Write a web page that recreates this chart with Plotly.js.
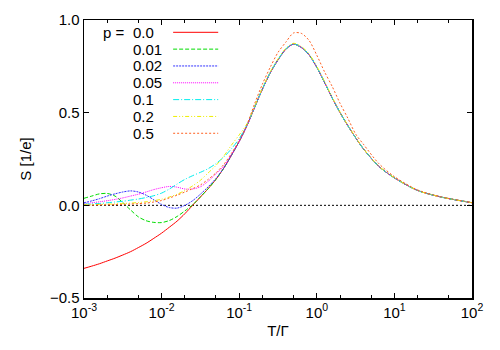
<!DOCTYPE html>
<html>
<head>
<meta charset="utf-8">
<script src="https://cdn.plot.ly/plotly-3.0.1.min.js"></script>
<style>html,body{margin:0;padding:0;background:#fff;}#chart{width:500px;height:350px;}</style>
</head>
<body>
<div id="chart"></div>
<script>
// Temperature grid T/Γ (log spaced points)
var T = [0.001, 0.001259, 0.001585, 0.001995, 0.002512, 0.003162, 0.003981, 0.005012, 0.00631, 0.007943,
         0.01, 0.01259, 0.01585, 0.01995, 0.02512, 0.03162, 0.03981, 0.05012, 0.0631, 0.07943,
         0.1, 0.1259, 0.1585, 0.1995, 0.2512, 0.3162, 0.3981, 0.5012, 0.631, 0.7943,
         1, 1.259, 1.585, 1.995, 2.512, 3.162, 3.981, 6.31, 10, 19.95, 39.81, 100];

var labels = ["0.0", "0.01", "0.02", "0.05", "0.1", "0.2", "0.5"];

var xTickVals = [0.001, 0.01, 0.1, 1, 10, 100];
var xTickText = ["10<sup>-3</sup>", "10<sup>-2</sup>", "10<sup>-1</sup>", "10<sup>0</sup>", "10<sup>1</sup>", "10<sup>2</sup>"];
var yTickVals = [-0.5, 0.0, 0.5, 1.0];

var S_p000 = [-0.34, -0.328, -0.315, -0.30, -0.285, -0.268, -0.25, -0.228, -0.205, -0.178,
              -0.15, -0.118, -0.085, -0.045, 0.0, 0.045, 0.09, 0.14, 0.20, 0.27,
              0.345, 0.43, 0.53, 0.628, 0.715, 0.785, 0.842, 0.87, 0.852, 0.812,
              0.745, 0.663, 0.578, 0.50, 0.43, 0.365, 0.305, 0.21, 0.148, 0.08, 0.045, 0.014];
var S_p001 = [0.038, 0.05, 0.062, 0.064, 0.05, 0.015, -0.025, -0.062, -0.083, -0.092,
              -0.093, -0.082, -0.06, -0.03, 0.003, 0.045, 0.09, 0.14, 0.20, 0.27,
              0.345, 0.43, 0.53, 0.628, 0.715, 0.785, 0.842, 0.87, 0.852, 0.812,
              0.745, 0.663, 0.578, 0.50, 0.43, 0.365, 0.305, 0.21, 0.148, 0.08, 0.045, 0.014];
var S_p002 = [0.014, 0.024, 0.036, 0.05, 0.062, 0.072, 0.078, 0.072, 0.055, 0.03,
              0.005, -0.012, -0.015, 0.0, 0.025, 0.06, 0.10, 0.145, 0.20, 0.27,
              0.345, 0.43, 0.53, 0.628, 0.715, 0.785, 0.842, 0.87, 0.852, 0.812,
              0.745, 0.663, 0.578, 0.50, 0.43, 0.365, 0.305, 0.21, 0.148, 0.08, 0.045, 0.014];
var S_p005 = [0.01, 0.014, 0.019, 0.025, 0.032, 0.04, 0.05, 0.06, 0.072, 0.085,
              0.095, 0.102, 0.098, 0.088, 0.088, 0.10, 0.13, 0.17, 0.21, 0.275,
              0.345, 0.43, 0.53, 0.628, 0.715, 0.785, 0.842, 0.87, 0.852, 0.812,
              0.745, 0.663, 0.578, 0.50, 0.43, 0.365, 0.305, 0.21, 0.148, 0.08, 0.045, 0.014];
var S_p010 = [0.006, 0.008, 0.01, 0.014, 0.018, 0.022, 0.028, 0.034, 0.042, 0.052,
              0.066, 0.088, 0.115, 0.14, 0.16, 0.178, 0.198, 0.225, 0.26, 0.305,
              0.36, 0.435, 0.532, 0.63, 0.717, 0.787, 0.844, 0.871, 0.853, 0.813,
              0.746, 0.664, 0.579, 0.50, 0.43, 0.365, 0.305, 0.21, 0.148, 0.08, 0.045, 0.014];
var S_p020 = [0.003, 0.004, 0.005, 0.006, 0.008, 0.01, 0.012, 0.015, 0.019, 0.025,
              0.033, 0.045, 0.06, 0.08, 0.105, 0.135, 0.175, 0.215, 0.265, 0.325,
              0.38, 0.44, 0.535, 0.633, 0.72, 0.79, 0.847, 0.874, 0.857, 0.817,
              0.75, 0.668, 0.582, 0.503, 0.432, 0.367, 0.306, 0.211, 0.149, 0.08, 0.045, 0.014];
var S_p050 = [0.001, 0.001, 0.002, 0.003, 0.004, 0.005, 0.007, 0.009, 0.012, 0.018,
              0.026, 0.04, 0.055, 0.072, 0.09, 0.11, 0.14, 0.175, 0.22, 0.28,
              0.35, 0.435, 0.55, 0.655, 0.745, 0.825, 0.88, 0.93, 0.928, 0.89,
              0.81, 0.72, 0.64, 0.55, 0.47, 0.385, 0.33, 0.225, 0.155, 0.083, 0.046, 0.015];

var series = [S_p000, S_p001, S_p002, S_p005, S_p010, S_p020, S_p050];
var colors = ["#ff0000", "#00dd00", "#3333ff", "#ff00ff", "#00eeee", "#eeee00", "#ff6020"];
var dashes = ["solid", "4px,2px", "2px,1px", "1px,1px", "6px,2px,1px,2px", "4px,2px,1px,2px,1px,2px", "2px,2px"];

var font = "Liberation Sans, Arial, Helvetica, sans-serif";
var fs = 15;
var traces = series.map(function (s, i) {
  return {x: T, y: s, type: "scatter", mode: "lines", name: labels[i],
          line: {color: colors[i], width: 1, dash: dashes[i], shape: "spline", smoothing: 0.8},
          showlegend: false, hoverinfo: "skip"};
});

// Custom gnuplot-style key: text on the left, line sample on the right
var annotations = [];
var shapes = [];
var W = 387.4, H = 278;
for (var i = 0; i < labels.length; i++) {
  var yp = (298 - (32.3 + 16.83 * i)) / H;
  annotations.push({xref: "paper", yref: "paper", x: (131 - 84.3) / W, y: yp, xanchor: "left", yanchor: "middle",
                    text: labels[i], showarrow: false, font: {family: font, size: fs, color: "#000"}});
  shapes.push({type: "line", xref: "paper", yref: "paper", x0: (173.3 - 84.3) / W, x1: (218.3 - 84.3) / W,
               y0: yp, y1: yp, line: {color: colors[i], width: 1, dash: dashes[i]}});
}
annotations.push({xref: "paper", yref: "paper", x: (127 - 84.3) / W, y: (298 - 32.3) / H, xanchor: "right", yanchor: "middle",
                  text: "p =", showarrow: false, font: {family: font, size: fs, color: "#000"}});
// zero reference line
shapes.push({type: "line", xref: "paper", yref: "y", x0: 0, x1: 1, y0: 0, y1: 0,
             line: {color: "#000", width: 1, dash: "2px,2px"}, layer: "below"});

var layout = {
  width: 500, height: 350,
  margin: {l: 84, r: 28, t: 20, b: 52},
  paper_bgcolor: "#fff", plot_bgcolor: "#fff",
  font: {family: font, size: fs, color: "#000"},
  showlegend: false,
  xaxis: {type: "log", range: [-3, 2], tickmode: "array", tickvals: xTickVals, ticktext: xTickText,
          showgrid: false, zeroline: false,
          showline: true, linecolor: "#000", linewidth: 1.5, mirror: "allticks",
          ticks: "inside", ticklen: 5, tickcolor: "#000", tickwidth: 1,
          minor: {ticks: "inside", ticklen: 3, dtick: "D2", tickcolor: "#000", showgrid: false},
          tickfont: {family: font, size: fs, color: "#000"},
          title: {text: "T/Γ", font: {family: font, size: fs, color: "#000"}, standoff: 6}},
  yaxis: {range: [-0.5, 1.0], tickmode: "array", tickvals: yTickVals, tickformat: ".1f", showgrid: false, zeroline: false,
          showline: true, linecolor: "#000", linewidth: 1.5, mirror: "allticks",
          ticks: "inside", ticklen: 5, tickcolor: "#000", tickwidth: 1,
          tickfont: {family: font, size: fs, color: "#000"},
          title: {text: "S [1/e]", font: {family: font, size: fs, color: "#000"}, standoff: 14}},
  annotations: annotations,
  shapes: shapes
};

Plotly.newPlot("chart", traces, layout, {staticPlot: true, displayModeBar: false});
</script>
</body>
</html>
